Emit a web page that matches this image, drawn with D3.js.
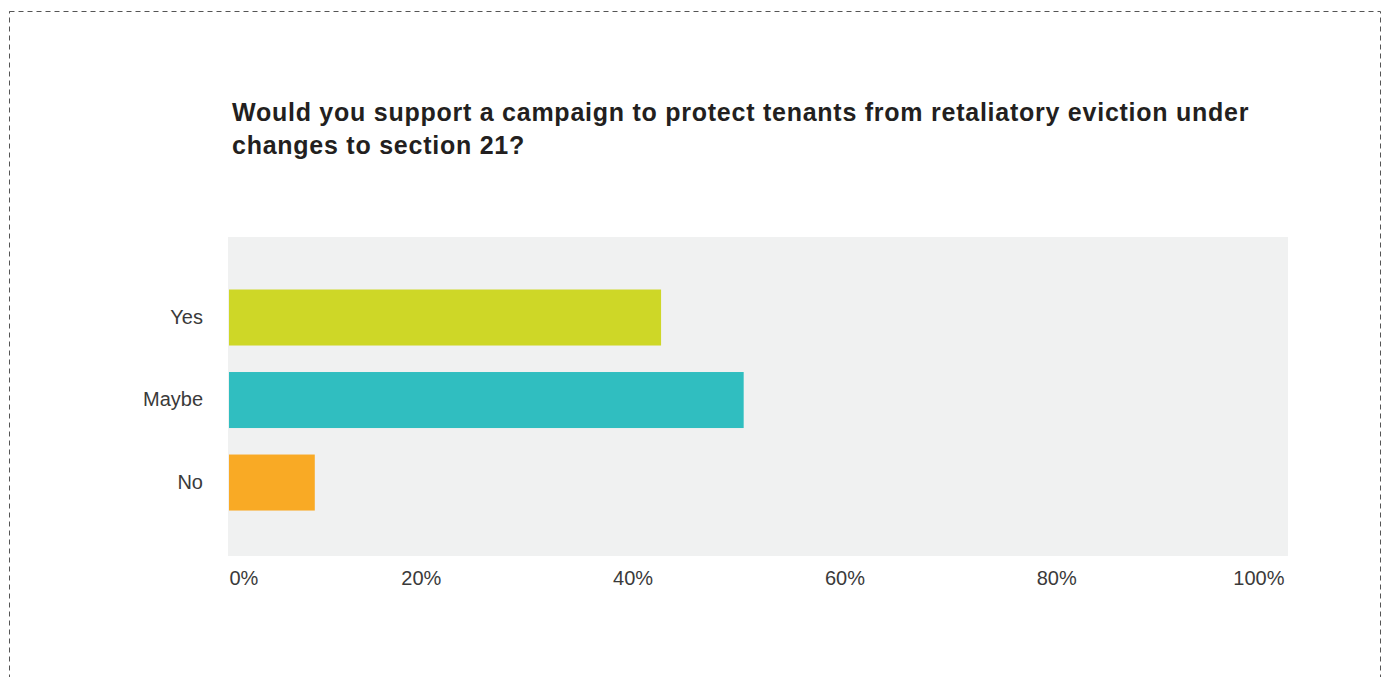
<!DOCTYPE html>
<html>
<head>
<meta charset="utf-8">
<script src="https://cdn.jsdelivr.net/npm/d3@7"></script>
<style>
  html, body { margin: 0; padding: 0; background: #fff; }
  svg { display: block; }
</style>
</head>
<body>
<svg id="chart" width="1387" height="677"></svg>
<script>
const categories = ["Yes", "Maybe", "No"];
const values = [40.8, 48.6, 8.1];
const colors = ["#CED727", "#30BEC0", "#F9AA25"];
const tickValues = [0, 20, 40, 60, 80, 100];
const tickLabels = ["0%", "20%", "40%", "60%", "80%", "100%"];
const titleLines = [
  "Would you support a campaign to protect tenants from retaliatory eviction under",
  "changes to section 21?"
];

const svg = d3.select("#chart");
const font = "'Liberation Sans', Arial, Helvetica, sans-serif";

// dashed frame
svg.append("rect")
  .attr("x", 9.5).attr("y", 11.5)
  .attr("width", 1371).attr("height", 700)
  .attr("fill", "none")
  .attr("stroke", "#555")
  .attr("stroke-width", 1)
  .attr("stroke-dasharray", "5,4");

// title
const title = svg.append("text")
  .attr("x", 232).attr("y", 121)
  .attr("font-family", font)
  .attr("font-weight", "bold")
  .attr("font-size", 25)
  .attr("letter-spacing", 0.75)
  .attr("fill", "#231f20");
titleLines.forEach((t, i) => {
  title.append("tspan").attr("x", 232).attr("dy", i === 0 ? 0 : 33).text(t);
});

const plot = { left: 228, right: 1288, top: 237, bottom: 556 };

svg.append("rect")
  .attr("x", plot.left).attr("y", plot.top)
  .attr("width", plot.right - plot.left)
  .attr("height", plot.bottom - plot.top)
  .attr("fill", "#F0F1F1");

const x = d3.scaleLinear().domain([0, 100]).range([229, 1288]);
const y = d3.scaleBand().domain(categories).range([248.25, 551.8])
  .paddingInner(26.5 / 82.5).paddingOuter(0.5);

svg.append("g").selectAll("rect")
  .data(categories)
  .join("rect")
  .attr("x", x(0))
  .attr("y", d => y(d))
  .attr("width", (d, i) => x(values[i]) - x(0))
  .attr("height", y.bandwidth())
  .attr("fill", (d, i) => colors[i]);

// y axis labels
const yAxis = d3.axisLeft(y).tickSize(0).tickPadding(0);
const gy = svg.append("g").attr("transform", "translate(203,0)").call(yAxis);
gy.select(".domain").remove();
gy.selectAll("text")
  .attr("font-family", font)
  .attr("font-size", 20)
  .attr("fill", "#3a3a3a")
  .attr("dy", "0.3em")
  .attr("x", 0);

// x axis labels
const xAxis = d3.axisBottom(x)
  .tickValues(tickValues)
  .tickSize(0)
  .tickFormat((d, i) => tickLabels[i]);
const gx = svg.append("g").attr("transform", "translate(0,585)").call(xAxis);
gx.select(".domain").remove();
gx.selectAll(".tick text")
  .attr("font-family", font)
  .attr("font-size", 20)
  .attr("fill", "#3a3a3a")
  .attr("y", 0)
  .attr("dy", 0)
  .attr("text-anchor", (d, i) => i === 0 ? "start" : (i === tickValues.length - 1 ? "end" : "middle"))
  .attr("dx", (d, i) => i === 0 ? 0 : (i === tickValues.length - 1 ? -4 : -20));
</script>
</body>
</html>
